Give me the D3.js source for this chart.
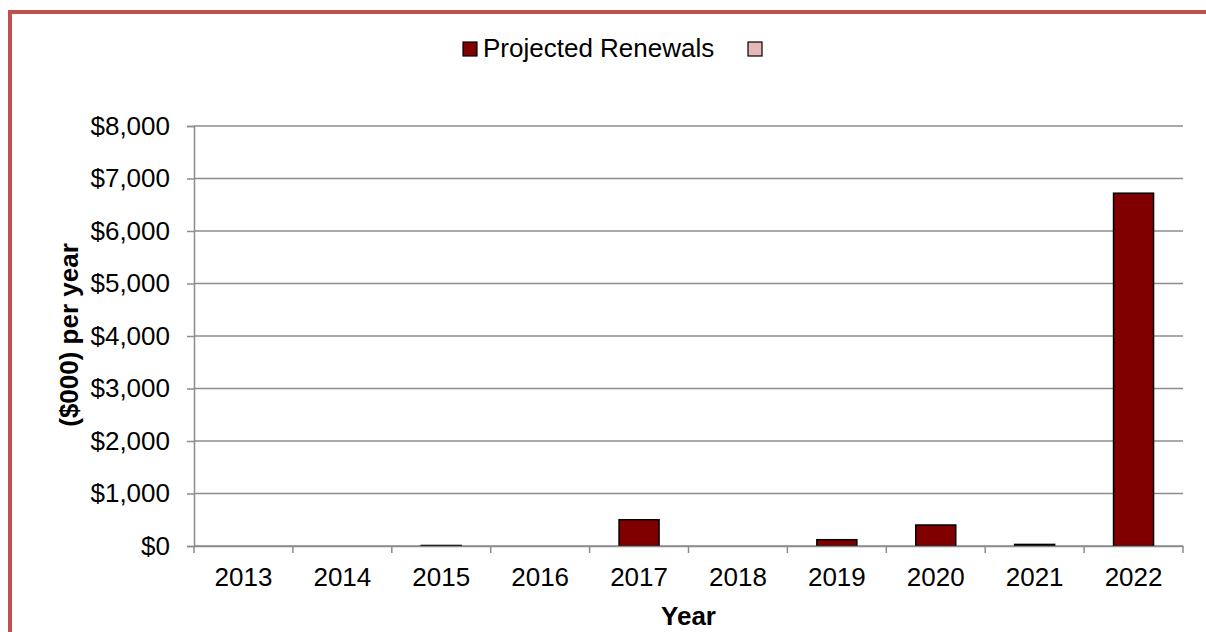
<!DOCTYPE html>
<html>
<head>
<meta charset="utf-8">
<script src="https://cdn.jsdelivr.net/npm/d3@7"></script>
<style>
  body { margin: 0; background: #fff; }
  svg { display: block; font-family: "Liberation Sans", Arial, sans-serif; }
</style>
</head>
<body>
<svg width="1206" height="632"></svg>
<script>
// data
var years = ["2013", "2014", "2015", "2016", "2017", "2018", "2019", "2020", "2021", "2022"];
var renewals = [0, 0, 10, 0, 500, 0, 120, 400, 30, 6720];
var yTicks = [0, 1000, 2000, 3000, 4000, 5000, 6000, 7000, 8000];

var svg = d3.select("svg");

// outer frame (only top and left visible)
svg.append("path")
    .attr("d", "M10,640 L10,12 L1215,12")
    .style("fill", "none")
    .style("stroke", "#c0504d")
    .style("stroke-width", 4);

var pLeft = 194, pRight = 1183, pTop = 126, pBottom = 546;

var x = d3.scaleBand().domain(years).range([pLeft, pRight]);
var y = d3.scaleLinear().domain([0, 8000]).range([pBottom, pTop]);

// gridlines
svg.selectAll("line.grid")
    .data(yTicks)
    .enter()
    .append("line")
    .attr("class", "grid")
    .attr("x1", pLeft)
    .attr("x2", pRight)
    .attr("y1", function(d) { return y(d); })
    .attr("y2", function(d) { return y(d); })
    .style("stroke", "#8c8c8c")
    .style("stroke-width", 1.5);

// y axis
var yAxis = svg.append("g")
    .attr("transform", "translate(" + pLeft + ",0)")
    .call(d3.axisLeft(y).tickValues(yTicks).tickSize(7).tickPadding(17)
        .tickFormat(function(d) { return "$" + d3.format(",")(d); }));
yAxis.select(".domain").style("stroke", "#8c8c8c").style("stroke-width", 1.5);
yAxis.selectAll(".tick line").style("stroke", "#8c8c8c").style("stroke-width", 1.5);
yAxis.selectAll("text").style("font-size", "26px").style("fill", "#000")
    .style("font-family", "'Liberation Sans', Arial, sans-serif");

// bars
var barW = 40;
svg.selectAll("rect.bar")
    .data(renewals)
    .enter()
    .append("rect")
    .attr("class", "bar")
    .attr("x", function(d, i) { return x(years[i]) + x.bandwidth() / 2 - barW / 2; })
    .attr("y", function(d) { return y(d); })
    .attr("width", barW)
    .attr("height", function(d) { return pBottom - y(d); })
    .style("fill", "#800000")
    .style("stroke", function(d) { return d > 0 ? "#000" : "none"; })
    .style("stroke-width", 1.5);

// x axis
var xAxis = svg.append("g")
    .attr("transform", "translate(0," + pBottom + ")")
    .call(d3.axisBottom(x).tickSize(0).tickPadding(22));
xAxis.select(".domain").style("stroke", "#8c8c8c").style("stroke-width", 1.5);
xAxis.selectAll("text").style("font-size", "26px").style("fill", "#000")
    .style("font-family", "'Liberation Sans', Arial, sans-serif");

// x ticks between categories
var edges = years.map(function(d) { return x(d); }).concat([pRight]);
xAxis.selectAll("line.sep")
    .data(edges)
    .enter()
    .append("line")
    .attr("class", "sep")
    .attr("x1", function(d) { return d; })
    .attr("x2", function(d) { return d; })
    .attr("y1", 0)
    .attr("y2", 7)
    .style("stroke", "#8c8c8c")
    .style("stroke-width", 1.5);

// axis titles
svg.append("text")
    .attr("x", (pLeft + pRight) / 2)
    .attr("y", 625)
    .attr("text-anchor", "middle")
    .style("font-size", "26px")
    .style("font-weight", "bold")
    .text("Year");

svg.append("text")
    .attr("transform", "translate(78," + 335 + ") rotate(-90)")
    .attr("text-anchor", "middle")
    .style("font-size", "26px")
    .style("font-weight", "bold")
    .text("($000) per year");

// legend
var legend = svg.append("g");
legend.append("rect")
    .attr("x", 463).attr("y", 42).attr("width", 14).attr("height", 14)
    .style("fill", "#800000").style("stroke", "#000").style("stroke-width", 1.2);
legend.append("text")
    .attr("x", 483).attr("y", 57)
    .style("font-size", "26px")
    .text("Projected Renewals");
legend.append("rect")
    .attr("x", 748).attr("y", 42).attr("width", 14).attr("height", 14)
    .style("fill", "#e6b9b8").style("stroke", "#000").style("stroke-width", 1.2);
</script>
</body>
</html>
